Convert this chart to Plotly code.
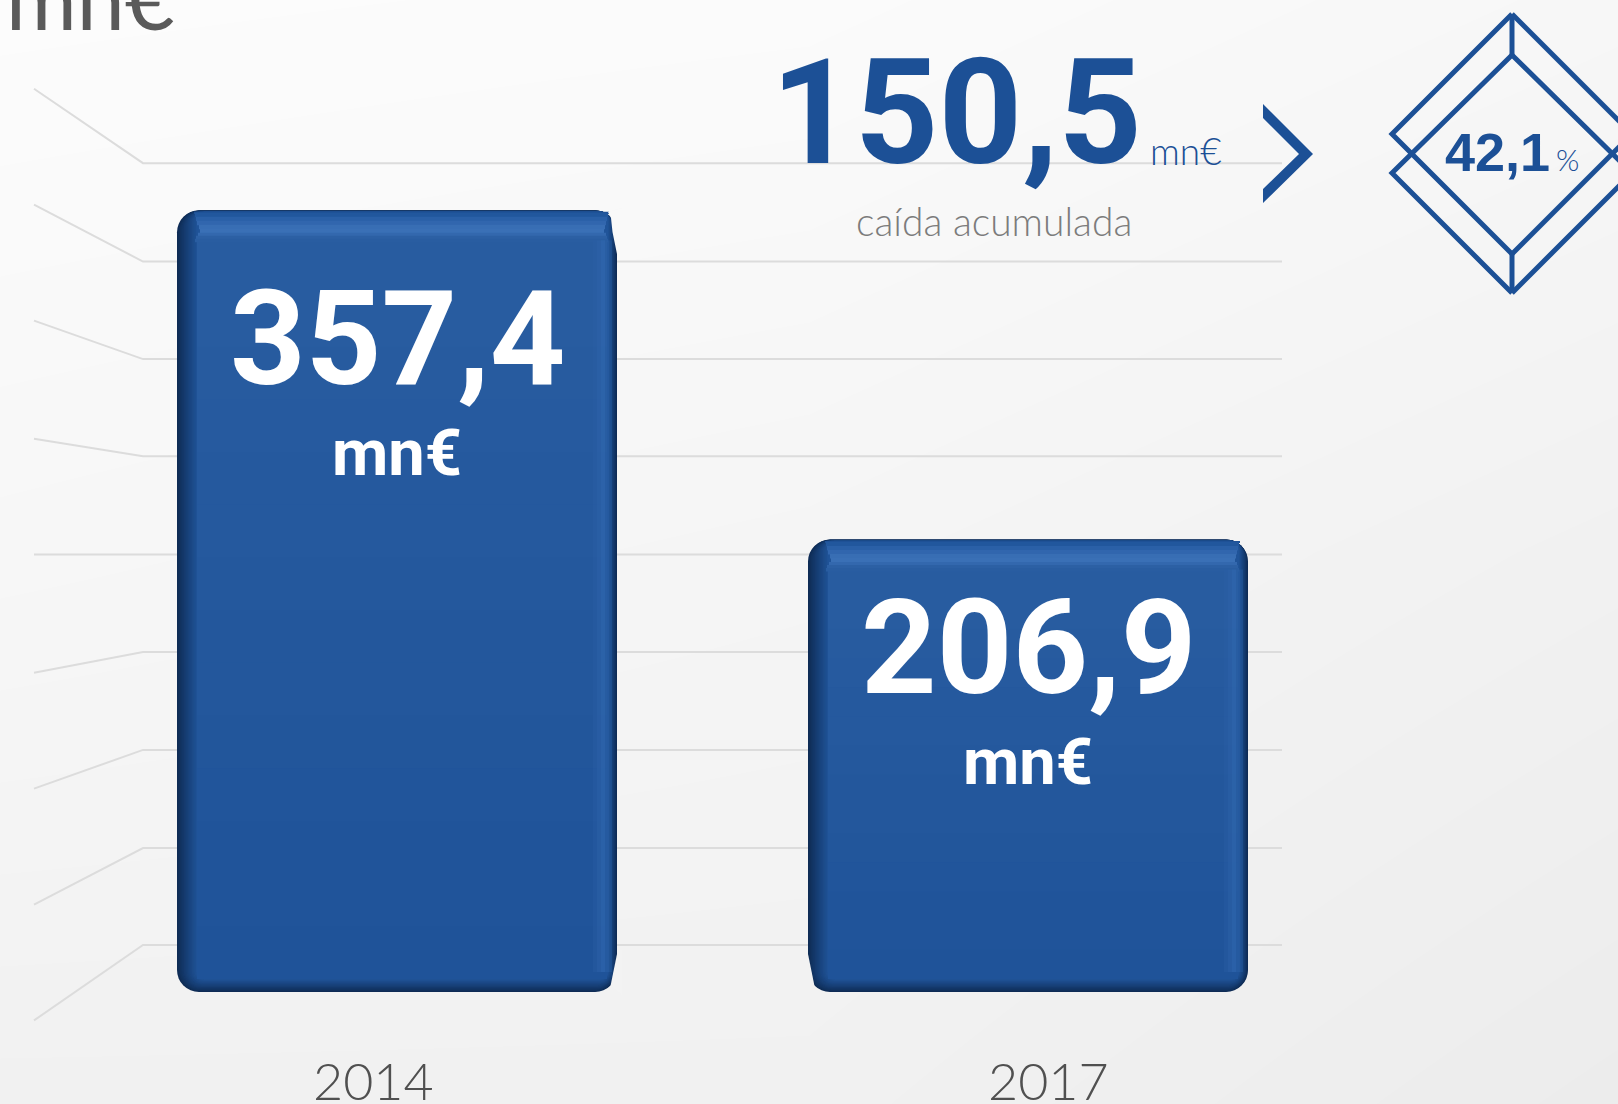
import plotly.graph_objects as go

# ---- data
years = ["2014", "2017"]
values = [357.4, 206.9]
value_labels = ["357,4", "206,9"]
bar_centers = [397, 1028]
year_label_x = [373, 1048]
drop_label = "150,5"
drop_pct = "42,1"
drop_caption = "caída acumulada"
unit = "mn€"
# guide lines in value units: flat level and level at the far left end
grid_level = [379, 334, 289.4, 245, 200, 155.5, 110.7, 65.8, 21.5]
grid_left_level = [413, 360, 307, 253, 200, 146, 93, 40, -13]
grid_x = [34, 143, 1282]

BLUE = "#1c5096"
W, H = 1618, 1104
SCALE = 2.187          # px per value unit
ZERO_PX = 992
BAR_W = 440
Y_RANGE = [-(H - ZERO_PX) / SCALE, ZERO_PX / SCALE]
PX = 1 / SCALE


def hex2rgb(c):
    return [int(c[i:i + 2], 16) for i in (1, 3, 5)]


def mix(a, b, t):
    ra, rb = hex2rgb(a), hex2rgb(b)
    return "rgb(%d,%d,%d)" % tuple(round(x + (y - x) * t) for x, y in zip(ra, rb))


fig = go.Figure()

# paper background, a soft grey fall-off
fig.add_trace(go.Heatmap(
    x=[0, W / 2, W], y=[Y_RANGE[0], sum(Y_RANGE) / 2, Y_RANGE[1]],
    z=[[241, 241, 236], [247, 245, 241], [252, 251, 247]],
    zmin=0, zmax=255, zsmooth="best", showscale=False, hoverinfo="skip",
    colorscale=[[0, "#000000"], [1, "#ffffff"]],
))

for flat, left in zip(grid_level, grid_left_level):
    fig.add_trace(go.Scatter(x=grid_x, y=[left, flat, flat], mode="lines",
                             line=dict(color="#dcdcdc", width=2), hoverinfo="skip"))


def layer(l, r, t, b, color, radius=0, opacity=1):
    """One layer over each value's bar: l/r/t/b are insets in px from its edges."""
    fig.add_trace(go.Bar(
        x=[c + (l - r) / 2 for c in bar_centers],
        y=[v - (t + b) * PX for v in values],
        base=[max(b, 0.01) * PX] * 2,
        width=BAR_W - l - r,
        marker=dict(color=color, opacity=opacity, line=dict(width=0), cornerradius=radius),
        yaxis="y2", hoverinfo="skip"))


# bevel: rings from the dark edge to the body colour
N = 16
for k in range(N):
    t = k / (N - 1)
    layer(k * 1.35, k * 0.6, k * 0.1, k * 0.85, mix("#0e2b54", "#205499", t ** 0.9), max(22 - k, 7))

# body, slightly lighter towards the top
steps = 14
for k in range(steps):
    f0, f1 = k / steps, (k + 1) / steps
    col = mix("#1f5399", "#295da1", f0)
    fig.add_trace(go.Bar(
        x=[c + 5 for c in bar_centers],
        y=[(v - 44 * PX) * (f1 - f0) + 1 for v in values],
        base=[13 * PX + (v - 44 * PX) * f0 for v in values],
        width=BAR_W - 30, marker=dict(color=col, line=dict(width=0)),
        yaxis="y2", hoverinfo="skip"))

# top highlight band, narrowing as it lightens so its ends fade
band = [(3, "#1e5196", 17, 8), (7, "#21579d", 18, 9), (11, "#2a60a7", 19, 10), (15, "#3166ae", 20, 11),
        (19, "#386eb4", 22, 12), (23, "#3a70b6", 23, 13), (26, "#3368ae", 21, 11), (29, "#2c60a4", 19, 10),
        (32, "#295da1", 18, 9)]
prev = 2
for d, c, il, ir in band:
    fig.add_trace(go.Bar(
        x=[b + (il - ir) / 2 for b in bar_centers],
        y=[(d - prev + 0.5) * PX] * 2, base=[v - d * PX for v in values],
        width=BAR_W - il - ir, marker=dict(color=c, line=dict(width=0)),
        yaxis="y2", hoverinfo="skip"))
    prev = d

# right highlight
for off, w, c, op in [(24, 4, "#2a5fa5", 0.35), (20, 4, "#2d63aa", 0.55), (16, 4, "#2f66ae", 0.7),
                      (12, 4, "#2a5fa5", 0.6), (8, 3, "#245a9e", 0.5)]:
    fig.add_trace(go.Bar(
        x=[b + BAR_W / 2 - off + w / 2 for b in bar_centers],
        y=[v - 50 * PX for v in values], base=[20 * PX] * 2,
        width=w, marker=dict(color=c, opacity=op, line=dict(width=0)),
        yaxis="y2", hoverinfo="skip"))

# chamfered corners, chevron and diamonds in page pixels
for xs, ys, col in [
    ([617.8, 612.5, 611, 608, 622, 622, 617.8], [258, 232, 218, 212, 208, 258, 258], "#f9f9f9"),
    ([617.8, 610.5, 622, 622, 617.8], [950, 986, 995, 950, 950], "#f3f3f3"),
    ([807.2, 814.5, 803, 803, 807.2], [950, 986, 995, 950, 950], "#f2f2f2"),
    ([1263, 1313, 1263, 1263, 1299, 1263, 1263], [104, 154, 203, 189, 154, 118, 104], BLUE),
]:
    fig.add_trace(go.Scatter(x=xs, y=ys, yaxis="y3", mode="lines", fill="toself", fillcolor=col,
                             line=dict(width=0), hoverinfo="skip"))

diamond_paths = [
    ([1512, 1392, 1512], [14, 134, 254]),
    ([1512, 1392, 1512], [55, 173, 293]),
    ([1512, 1632, 1512], [14, 134, 254]),
    ([1512, 1632, 1512], [55, 173, 293]),
    ([1512, 1512], [14, 55]),
    ([1512, 1512], [252, 293]),
]
for xs, ys in diamond_paths:
    fig.add_trace(go.Scatter(x=xs, y=ys, yaxis="y3", mode="lines",
                             line=dict(color=BLUE, width=5), hoverinfo="skip"))


def label(x, y, text, size, color, family="Lato", weight=400, anchor="center"):
    fig.add_annotation(x=x, y=y, xref="x", yref="y3", text=text, showarrow=False,
                       xanchor=anchor, yanchor="middle", align="center",
                       font=dict(family=family, size=size, color=color, weight=weight))


for c, txt, ny, uy in zip(bar_centers, value_labels, [339, 648], [453, 762]):
    label(c, ny, txt, 132, "#ffffff", family="Roboto", weight=700)
    label(c, uy, unit, 65, "#ffffff", family="Roboto", weight=700)
for x, y in zip(year_label_x, years):
    label(x, 1080, y, 52, "#505050", weight=300)

label(956, 113, drop_label, 146, BLUE, family="Roboto", weight=700)
label(1148, 150, unit, 37, BLUE, anchor="left", weight=300)
label(994, 221, drop_caption, 39, "#7c7c7c", weight=300)
label(1443, 152, drop_pct, 54, BLUE, family="Liberation Sans", weight=700, anchor="left")
label(1554, 159, "%", 30, BLUE, weight=300, anchor="left")
fig.add_annotation(x=4, y=1.003, xref="x", yref="paper", text=unit, showarrow=False,
                   xanchor="left", yanchor="middle",
                   font=dict(family="Lato", size=86, color="#5a5a5a", weight=400))

hidden = dict(visible=False, showgrid=False, zeroline=False, fixedrange=True)
fig.update_layout(
    width=W, height=H, margin=dict(l=0, r=0, t=0, b=0), showlegend=False,
    paper_bgcolor="#f6f6f6", plot_bgcolor="rgba(0,0,0,0)", barmode="overlay",
    xaxis=dict(range=[0, W], domain=[0, 1], **hidden),
    yaxis=dict(range=Y_RANGE, domain=[0, 1], **hidden),
    yaxis2=dict(range=Y_RANGE, overlaying="y", **hidden),
    yaxis3=dict(range=[H, 0], overlaying="y", **hidden),
)
fig.write_html("out.html", post_script="document.body.style.margin='0';document.documentElement.style.overflow='hidden';",
               config={"displayModeBar": False})
